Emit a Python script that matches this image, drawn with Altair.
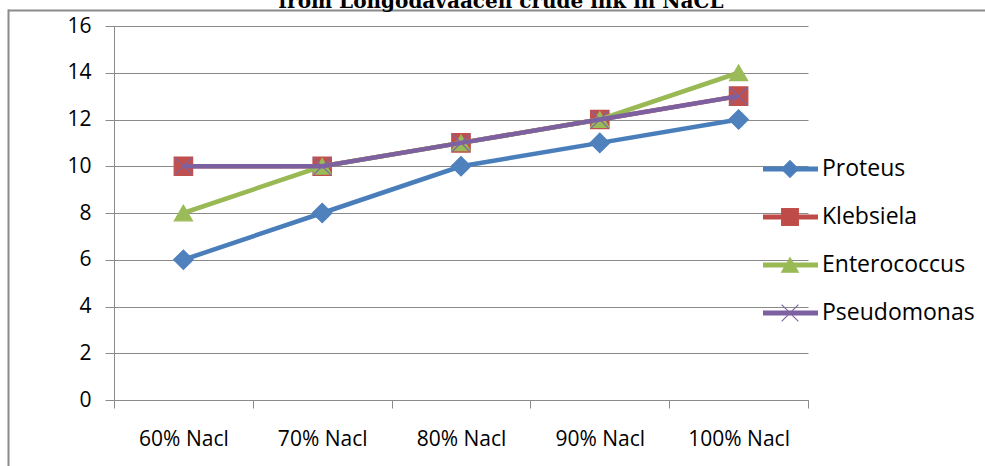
import altair as alt
import pandas as pd

title_text = "from Longodavaacen crude ink in NaCL"
categories = ["60% Nacl", "70% Nacl", "80% Nacl", "90% Nacl", "100% Nacl"]
series = ["Proteus", "Klebsiela", "Enterococcus", "Pseudomonas"]
proteus = [6, 8, 10, 11, 12]
klebsiela = [10, 10, 11, 12, 13]
enterococcus = [8, 10, 11, 12, 14]
pseudomonas = [10, 10, 11, 12, 13]
y_ticks = [0, 2, 4, 6, 8, 10, 12, 14, 16]

line_colors = ["#4A7EBB", "#BE4B48", "#98B954", "#7D60A0"]
marker_colors = ["#4F81BD", "#C0504D", "#9BBB59", "#8064A2"]
shapes = ["diamond", "square", "triangle-up", "M-1,-1L1,1M-1,1L1,-1"]
marker_sizes = [380, 340, 330, 300]

values = [proteus, klebsiela, enterococcus, pseudomonas]
rows = []
for s, vals in zip(series, values):
    for c, v in zip(categories, vals):
        rows.append({"cat": c, "series": s, "val": v})
df = pd.DataFrame(rows)
legend_df = pd.DataFrame({"series": series})

FONT = "Open Sans"
GRAY = "#8a8a8a"

x_enc = alt.X(
    "cat:N",
    sort=categories,
    scale=alt.Scale(type="band", domain=categories, paddingInner=0, paddingOuter=0),
    axis=alt.Axis(
        title=None, labelAngle=0, tickBand="extent", grid=False,
        domainColor=GRAY, tickColor=GRAY, tickSize=8, labelPadding=20,
        labelFont=FONT, labelFontSize=21, labelColor="#000000",
    ),
)
y_enc = alt.Y(
    "val:Q",
    scale=alt.Scale(domain=[0, 16], nice=False, zero=True),
    axis=alt.Axis(
        title=None, values=y_ticks, grid=True, gridColor=GRAY, gridWidth=1,
        domainColor=GRAY, tickColor=GRAY, tickSize=9, labelPadding=14,
        labelFont=FONT, labelFontSize=21, labelColor="#000000",
    ),
)

data_layers = []
for i, s in enumerate(series):
    base = alt.Chart(df).transform_filter(alt.datum.series == s)
    data_layers.append(
        base.mark_line(color=line_colors[i], strokeWidth=4.5).encode(x=x_enc, y=y_enc)
    )
    data_layers.append(
        base.mark_point(
            shape=shapes[i], filled=True, fill=marker_colors[i],
            stroke=marker_colors[i], strokeWidth=1.2, size=marker_sizes[i], opacity=1,
        ).encode(x=x_enc, y=y_enc)
    )
data_group = alt.layer(*data_layers)

leg_y = alt.Y(
    "series:N", sort=series,
    scale=alt.Scale(type="point", domain=series, range=[143, 287], padding=0),
    axis=None,
)
color_scale = alt.Scale(domain=series, range=line_colors)
mcolor_scale = alt.Scale(domain=series, range=marker_colors)
leg_base = alt.Chart(legend_df)
leg_rule = leg_base.mark_rule(strokeWidth=5).encode(
    x=alt.value(649), x2=alt.value(704), y=leg_y,
    color=alt.Color("series:N", scale=color_scale, legend=None),
)
leg_point = leg_base.mark_point(filled=True, size=280, strokeWidth=1.2, opacity=1).encode(
    x=alt.value(676), y=leg_y,
    shape=alt.Shape("series:N", scale=alt.Scale(domain=series, range=shapes), legend=None),
    color=alt.Color("series:N", scale=mcolor_scale, legend=None),
    stroke=alt.Stroke("series:N", scale=mcolor_scale, legend=None),
)
leg_text = leg_base.mark_text(
    align="left", baseline="middle", font=FONT, fontSize=23, color="#000000"
).encode(x=alt.value(708), y=leg_y, text="series:N")
legend_group = alt.layer(leg_rule, leg_point, leg_text)

title_mark = alt.Chart(pd.DataFrame({"t": [title_text]})).mark_text(
    align="center", baseline="alphabetic", font="DejaVu Serif", fontWeight="bold",
    fontSize=20, color="#000000",
).encode(x=alt.value(387), y=alt.value(-18), text="t:N")

frame_df = pd.DataFrame({"b": [1]})
border_top = alt.Chart(frame_df).mark_rect(fill=GRAY, strokeWidth=0).encode(
    x=alt.value(-106), x2=alt.value(871), y=alt.value(-16.5), y2=alt.value(-14.5)
)
border_left = alt.Chart(frame_df).mark_rect(fill=GRAY, strokeWidth=0).encode(
    x=alt.value(-106.5), x2=alt.value(-104.5), y=alt.value(-16.5), y2=alt.value(440)
)

chart = (
    alt.layer(border_top, border_left, data_group, legend_group, title_mark)
    .resolve_scale(y="independent", color="independent", shape="independent", stroke="independent")
    .properties(
        width=694, height=374,
        autosize=alt.AutoSizeParams(type="none"),
        padding={"left": 114, "top": 26, "right": 177, "bottom": 66},
        background="#ffffff",
    )
    .configure_view(strokeWidth=0)
)

chart.save("out.html", embed_options={"renderer": "svg", "actions": False})
